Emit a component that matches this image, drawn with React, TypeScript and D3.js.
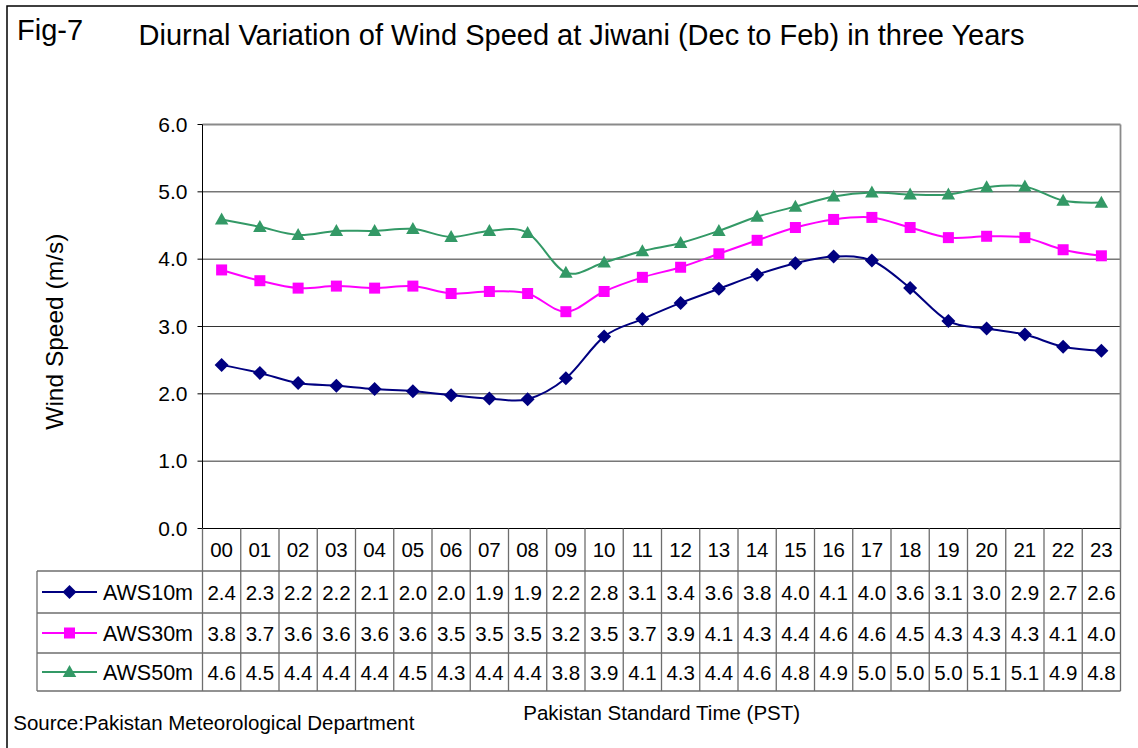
import React from "react";
import * as d3 from "d3";

const hours = ["00","01","02","03","04","05","06","07","08","09","10","11","12","13","14","15","16","17","18","19","20","21","22","23"];
const aws10 = [2.43,2.31,2.16,2.12,2.07,2.04,1.98,1.93,1.92,2.23,2.85,3.11,3.35,3.56,3.77,3.94,4.04,3.98,3.57,3.08,2.97,2.88,2.70,2.64];
const aws30 = [3.84,3.68,3.57,3.60,3.57,3.60,3.49,3.52,3.49,3.22,3.52,3.73,3.88,4.08,4.28,4.47,4.59,4.62,4.47,4.32,4.34,4.32,4.14,4.05];
const aws50 = [4.59,4.48,4.36,4.42,4.42,4.45,4.33,4.42,4.39,3.80,3.95,4.12,4.24,4.42,4.63,4.78,4.93,4.99,4.96,4.96,5.07,5.08,4.87,4.84];
const tab10 = ["2.4","2.3","2.2","2.2","2.1","2.0","2.0","1.9","1.9","2.2","2.8","3.1","3.4","3.6","3.8","4.0","4.1","4.0","3.6","3.1","3.0","2.9","2.7","2.6"];
const tab30 = ["3.8","3.7","3.6","3.6","3.6","3.6","3.5","3.5","3.5","3.2","3.5","3.7","3.9","4.1","4.3","4.4","4.6","4.6","4.5","4.3","4.3","4.3","4.1","4.0"];
const tab50 = ["4.6","4.5","4.4","4.4","4.4","4.5","4.3","4.4","4.4","3.8","3.9","4.1","4.3","4.4","4.6","4.8","4.9","5.0","5.0","5.0","5.1","5.1","4.9","4.8"];
const yTicks = [0,1,2,3,4,5,6];
const seriesNames = ["AWS10m","AWS30m","AWS50m"];

const FONT = "'Liberation Sans', Arial, sans-serif";

type Series = { name: string; values: number[]; labels: string[]; color: string; marker: "diamond" | "square" | "triangle" };

const series: Series[] = [
  { name: seriesNames[0], values: aws10, labels: tab10, color: "#000080", marker: "diamond" },
  { name: seriesNames[1], values: aws30, labels: tab30, color: "#FF00FF", marker: "square" },
  { name: seriesNames[2], values: aws50, labels: tab50, color: "#339966", marker: "triangle" },
];

function Marker({ type, x, y, color }: { type: string; x: number; y: number; color: string }) {
  if (type === "diamond") {
    const r = 7;
    return <path d={`M${x},${y - r}L${x + r},${y}L${x},${y + r}L${x - r},${y}Z`} fill={color} />;
  }
  if (type === "square") {
    const s = 11;
    return <rect x={x - s / 2} y={y - s / 2} width={s} height={s} fill={color} />;
  }
  const w = 13.5, h = 12;
  return <path d={`M${x},${y - h * 0.58}L${x + w / 2},${y + h * 0.42}L${x - w / 2},${y + h * 0.42}Z`} fill={color} />;
}

export default function App() {
  const W = 1138, H = 748;
  const PL = 202.5, PR = 1120.5, PT = 124.5, PB = 528.5;
  const x = d3.scaleBand<string>().domain(hours).range([PL, PR]).padding(0);
  const y = d3.scaleLinear().domain([0, 6]).range([PB, PT]);
  const cx = (h: string) => (x(h) as number) + x.bandwidth() / 2;
  const line = d3.line<number>().x((_, i) => cx(hours[i])).y((v) => y(v)).curve(d3.curveCatmullRom.alpha(0));

  const rowEdges = [PB, 571, 613, 653, 691];
  const legendLeft = 37;
  const gridColor = "#333";
  const tableColor = "#6e6e6e";

  return (
    <svg width={W} height={H} style={{ display: "block", position: "absolute", left: 0, top: 0 }} fontFamily={FONT}>
      <rect x={0} y={0} width={W} height={H} fill="#fff" />
      <rect x={7} y={6} width={1200} height={800} fill="none" stroke="#000" strokeWidth={1.5} />
      <text x={17} y={40} fontSize={29}>Fig-7</text>
      <text x={138.5} y={45} fontSize={29}>Diurnal Variation of Wind Speed at Jiwani (Dec to Feb) in three Years</text>

      {/* grid */}
      {yTicks.filter((t) => t > 0 && t < 6).map((t) => (
        <line key={t} x1={PL} x2={PR} y1={y(t)} y2={y(t)} stroke={gridColor} strokeWidth={1} />
      ))}
      <line x1={PL} x2={PR} y1={PT} y2={PT} stroke="#8a8a8a" strokeWidth={1.8} />
      <line x1={PR} x2={PR} y1={PT} y2={PB} stroke="#8a8a8a" strokeWidth={1.8} />
      {/* y axis */}
      <line x1={PL} x2={PL} y1={PT} y2={PB} stroke="#000" strokeWidth={1} />
      {yTicks.map((t) => (
        <g key={t}>
          <line x1={PL - 5} x2={PL} y1={y(t)} y2={y(t)} stroke="#000" strokeWidth={1} />
          <text x={187.5} y={y(t) + 7.3} fontSize={21} textAnchor="end">{t.toFixed(1)}</text>
        </g>
      ))}
      <text transform={`translate(63.3,331.7) rotate(-90)`} fontSize={24.5} textAnchor="middle">Wind Speed (m/s)</text>

      {/* series */}
      {series.map((s) => (
        <g key={s.name}>
          <path d={line(s.values) || ""} fill="none" stroke={s.color} strokeWidth={2} />
          {s.values.map((v, i) => (
            <Marker key={i} type={s.marker} x={cx(hours[i])} y={y(v)} color={s.color} />
          ))}
        </g>
      ))}

      {/* table */}
      <line x1={PL} x2={PR} y1={PB} y2={PB} stroke="#000" strokeWidth={1.2} />
      {rowEdges.slice(1).map((ry) => (
        <line key={ry} x1={legendLeft} x2={PR} y1={ry} y2={ry} stroke={tableColor} strokeWidth={1.3} />
      ))}
      {hours.map((h) => (
        <line key={h} x1={x(h) as number} x2={x(h) as number} y1={PB} y2={691} stroke={tableColor} strokeWidth={1.3} />
      ))}
      <line x1={PR} x2={PR} y1={PB} y2={691} stroke={tableColor} strokeWidth={1.3} />
      <line x1={legendLeft} x2={legendLeft} y1={571} y2={691} stroke={tableColor} strokeWidth={1.3} />
      {hours.map((h) => (
        <text key={h} x={cx(h)} y={(rowEdges[0] + rowEdges[1]) / 2 + 7.3} fontSize={20.5} textAnchor="middle">{h}</text>
      ))}
      {series.map((s, si) => {
        const mid = (rowEdges[si + 1] + rowEdges[si + 2]) / 2;
        return (
          <g key={s.name}>
            <line x1={42} x2={97} y1={mid} y2={mid} stroke={s.color} strokeWidth={2} />
            <Marker type={s.marker} x={69.5} y={mid} color={s.color} />
            <text x={103} y={mid + 7.5} fontSize={21.5}>{s.name}</text>
            {s.labels.map((l, i) => (
              <text key={i} x={cx(hours[i])} y={mid + 7.5} fontSize={20.5} textAnchor="middle">{l}</text>
            ))}
          </g>
        );
      })}

      <text x={661.7} y={720} fontSize={20.5} textAnchor="middle">Pakistan Standard Time (PST)</text>
      <text x={13.3} y={730} fontSize={20.5}>Source:Pakistan Meteorological Department</text>
    </svg>
  );
}
